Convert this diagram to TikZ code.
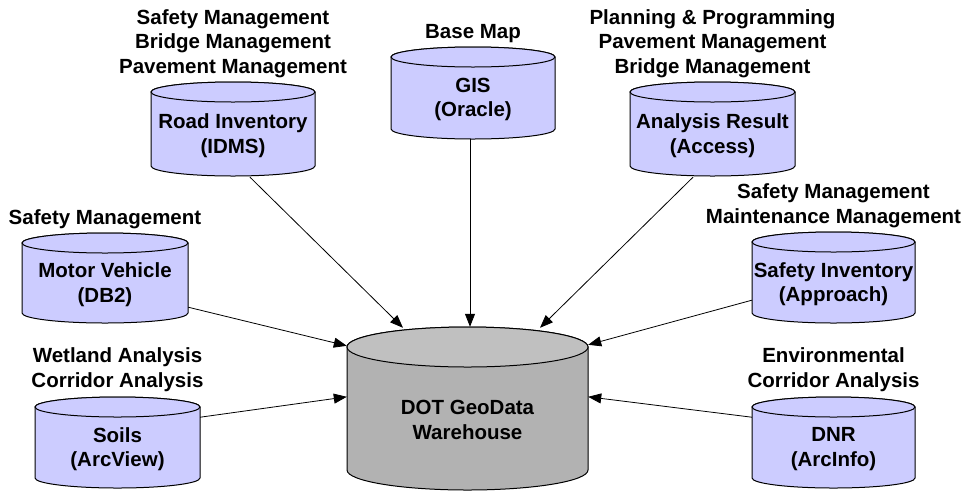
\documentclass[tikz,border=0pt]{standalone}
\usepackage{fontspec}
\setmainfont{Liberation Sans}
\usetikzlibrary{arrows.meta,calc}
\definecolor{dbfill}{HTML}{CCCCFF}
\definecolor{whbody}{HTML}{B2B2B2}
\definecolor{whtop}{HTML}{C0C0C0}
\tikzset{
  cylline/.style={draw=black, line width=1pt},
  dbtext/.style={align=center, inner sep=0pt, font=\fontsize{20.5}{24.5}\selectfont\bfseries},
  lbl/.style={align=center, inner sep=0pt, anchor=south, font=\fontsize{20.5}{24.5}\selectfont\bfseries},
  feed/.style={draw=black, line width=0.8pt, -{Triangle[length=13pt,width=10pt]}}
}
% #1 name, #2 cx, #3 top, #4 width, #5 height, #6 ry, #7 body colour, #8 top colour, #9 text
\newcommand{\dbcyl}[9]{%
  \pgfmathsetmacro\cylrx{#4/2}%
  \filldraw[cylline, fill=#7] ({#2-\cylrx},{-(#3+#6)}) -- ({#2-\cylrx},{-(#3+#5-#6)})
     arc[start angle=180, end angle=360, x radius=\cylrx pt, y radius=#6 pt]
     -- ({#2+\cylrx},{-(#3+#6)})
     arc[start angle=0, end angle=180, x radius=\cylrx pt, y radius=#6 pt] -- cycle;
  \filldraw[cylline, fill=#8] (#2,{-(#3+#6)}) ellipse[x radius=\cylrx pt, y radius=#6 pt];
  \node[inner sep=0pt, minimum width=#4 pt, minimum height=#5 pt] (#1) at (#2,{-(#3+#5/2)}) {};
  \node[dbtext] (#1-t) at (#2,{-(#3+#6+(#5-#6)/2+1.5)}) {#9};
}
\begin{document}
\begin{tikzpicture}[x=1pt,y=1pt]
\useasboundingbox[fill=white] (0,0) rectangle (973,-491);

\dbcyl{ri}{233}{82}{164}{94}{10}{dbfill}{dbfill}{Road Inventory\\(IDMS)}
\dbcyl{gis}{473}{47}{164}{92}{10}{dbfill}{dbfill}{GIS\\(Oracle)}
\dbcyl{ar}{712.5}{82}{165}{94}{10}{dbfill}{dbfill}{Analysis Result\\(Access)}
\dbcyl{mv}{105}{233}{166}{90}{10}{dbfill}{dbfill}{Motor Vehicle\\(DB2)}
\dbcyl{si}{833.5}{232}{163}{91}{10}{dbfill}{dbfill}{Safety Inventory\\(Approach)}
\dbcyl{so}{117.5}{397}{165}{91}{10}{dbfill}{dbfill}{Soils\\(ArcView)}
\dbcyl{dnr}{833.5}{397}{163}{91}{10}{dbfill}{dbfill}{DNR\\(ArcInfo)}
\dbcyl{dw}{467.5}{327}{241}{163}{20}{whbody}{whtop}{DOT GeoData\\Warehouse}

\node[lbl] (ri-l) at ($(ri.north)+(0,4)$) {Safety Management\\Bridge Management\\Pavement Management};
\node[lbl] (gis-l) at ($(gis.north)+(0,4)$) {Base Map};
\node[lbl] (ar-l) at ($(ar.north)+(0,4)$) {Planning \& Programming\\Pavement Management\\Bridge Management};
\node[lbl] (mv-l) at ($(mv.north)+(0,4)$) {Safety Management};
\node[lbl] (si-l) at ($(si.north)+(0,4)$) {Safety Management\\Maintenance Management};
\node[lbl] (so-l) at ($(so.north)+(0,5)$) {Wetland Analysis\\Corridor Analysis};
\node[lbl] (dnr-l) at ($(dnr.north)+(0,5)$) {Environmental\\Corridor Analysis};

\draw[feed] ($(ri.south)+(17,-1)$) -- ($(dw.north)+(-64.5,-1)$);
\draw[feed] ($(gis.south)+(-3,0)$) -- ($(dw.north)+(2.5,0)$);
\draw[feed] ($(ar.south)+(-19.5,-1)$) -- ($(dw.north)+(72.5,-1)$);
\draw[feed] ($(mv.south east)+(0,16)$) -- ($(dw.north west)+(0,-19)$);
\draw[feed] ($(so.south east)+(0,71)$) -- ($(dw.north west)+(0,-70)$);
\draw[feed] ($(si.south west)+(0,23)$) -- ($(dw.north east)+(0,-18)$);
\draw[feed] ($(dnr.south west)+(0,71)$) -- ($(dw.north east)+(0,-70)$);
\end{tikzpicture}
\end{document}
